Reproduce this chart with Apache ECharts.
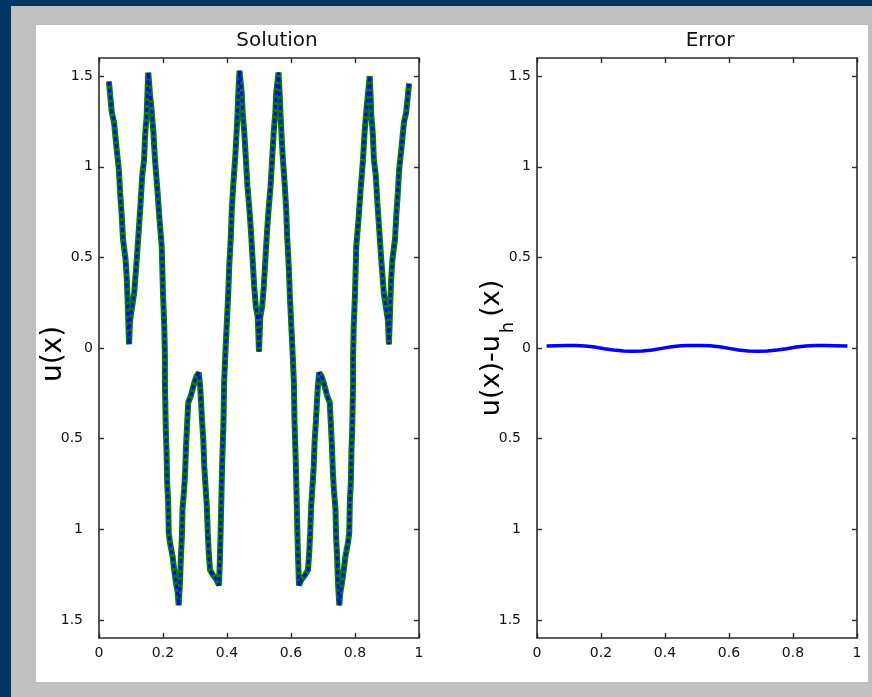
<!DOCTYPE html>
<html>
<head>
<meta charset="utf-8">
<title>Solution and Error</title>
<script src="https://cdn.jsdelivr.net/npm/echarts@6/dist/echarts.min.js"></script>
<style>
  html, body { margin: 0; padding: 0; background: #003366; }
  #frame { position: absolute; left: 11px; top: 6px; width: 861px; height: 691px; background: #c0c0c0; }
  #paper { position: absolute; left: 36px; top: 25px; width: 832px; height: 657px; background: #ffffff; }
  #chart { position: absolute; left: 0; top: 0; width: 872px; height: 697px; }
</style>
</head>
<body>
<div id="frame"></div>
<div id="paper"></div>
<div id="chart"></div>
<script>
// Computed solution u(x) (exact and discrete curves coincide)
const solX = [
  0.031, 0.040, 0.047, 0.055, 0.062, 0.066, 0.071, 0.075, 0.083, 0.087,
  0.090, 0.092, 0.094, 0.097, 0.102, 0.110, 0.118, 0.125, 0.130, 0.135,
  0.141, 0.144, 0.146, 0.149, 0.151, 0.154, 0.159, 0.165, 0.170, 0.175,
  0.183, 0.189, 0.196, 0.200, 0.204, 0.206, 0.206, 0.207, 0.209, 0.211,
  0.213, 0.216, 0.218, 0.222, 0.230, 0.235, 0.241, 0.246, 0.249, 0.253,
  0.256, 0.259, 0.261, 0.266, 0.269, 0.272, 0.276, 0.279, 0.286, 0.292,
  0.298, 0.305, 0.312, 0.316, 0.319, 0.322, 0.326, 0.329, 0.333, 0.337,
  0.340, 0.343, 0.347, 0.357, 0.368, 0.375, 0.378, 0.380, 0.383, 0.385,
  0.389, 0.391, 0.394, 0.397, 0.399, 0.404, 0.407, 0.412, 0.415, 0.420,
  0.426, 0.430, 0.433, 0.435, 0.439, 0.446, 0.449, 0.454, 0.459, 0.464,
  0.470, 0.475, 0.480, 0.485, 0.490, 0.496, 0.499, 0.500,
  0.501, 0.504, 0.510, 0.515, 0.520, 0.525, 0.530, 0.536, 0.541, 0.546,
  0.551, 0.554, 0.561, 0.565, 0.567, 0.570, 0.574, 0.580, 0.585, 0.588,
  0.593, 0.596, 0.601, 0.603, 0.606, 0.609, 0.611, 0.615, 0.617, 0.620,
  0.622, 0.625, 0.632, 0.643, 0.653, 0.657, 0.660, 0.663, 0.667, 0.671,
  0.674, 0.678, 0.681, 0.684, 0.688, 0.695, 0.702, 0.708, 0.714, 0.721,
  0.724, 0.728, 0.731, 0.734, 0.739, 0.741, 0.744, 0.747, 0.751, 0.754,
  0.759, 0.765, 0.770, 0.778, 0.782, 0.784, 0.787, 0.789, 0.791, 0.793,
  0.794, 0.794, 0.796, 0.800, 0.804, 0.811, 0.817, 0.825, 0.830, 0.835,
  0.841, 0.846, 0.849, 0.851, 0.854, 0.856, 0.859, 0.865, 0.870, 0.875,
  0.882, 0.890, 0.898, 0.903, 0.906, 0.908, 0.910, 0.913, 0.917, 0.925,
  0.929, 0.934, 0.938, 0.945, 0.953, 0.960, 0.969
];
const solY = [
  1.47, 1.30, 1.245, 1.10, 0.985, 0.86, 0.73, 0.60, 0.49, 0.38,
  0.23, 0.12, 0.02, 0.15, 0.21, 0.305, 0.49, 0.67, 0.80, 0.95,
  1.04, 1.17, 1.22, 1.28, 1.39, 1.52, 1.41, 1.30, 1.19, 1.04,
  0.86, 0.71, 0.56, 0.30, 0.12, -0.05, -0.19, -0.29, -0.47, -0.56,
  -0.745, -0.84, -1.02, -1.075, -1.15, -1.225, -1.30, -1.35, -1.42, -1.30,
  -1.15, -1.04, -0.89, -0.78, -0.69, -0.545, -0.40, -0.30, -0.27, -0.23,
  -0.19, -0.155, -0.135, -0.21, -0.30, -0.40, -0.51, -0.655, -0.765, -0.875,
  -1.02, -1.13, -1.225, -1.255, -1.28, -1.31, -1.15, -1.02, -0.78, -0.635,
  -0.41, -0.19, -0.065, 0.05, 0.12, 0.305, 0.45, 0.615, 0.765, 0.91,
  1.06, 1.19, 1.30, 1.39, 1.53, 1.41, 1.30, 1.19, 1.04, 0.89,
  0.765, 0.64, 0.49, 0.34, 0.23, 0.17, 0.03, -0.02,
  0.03, 0.17, 0.23, 0.34, 0.49, 0.64, 0.765, 0.89, 1.04, 1.19,
  1.30, 1.41, 1.52, 1.39, 1.30, 1.19, 1.06, 0.91, 0.765, 0.615,
  0.45, 0.305, 0.12, 0.05, -0.065, -0.19, -0.41, -0.635, -0.78, -1.02,
  -1.15, -1.31, -1.28, -1.255, -1.225, -1.13, -1.02, -0.875, -0.765, -0.655,
  -0.51, -0.40, -0.30, -0.21, -0.135, -0.155, -0.19, -0.23, -0.27, -0.30,
  -0.40, -0.545, -0.69, -0.78, -0.89, -1.04, -1.15, -1.30, -1.42, -1.35,
  -1.30, -1.225, -1.15, -1.075, -1.02, -0.84, -0.745, -0.56, -0.47, -0.29,
  -0.19, -0.05, 0.12, 0.30, 0.56, 0.71, 0.86, 1.04, 1.19, 1.30,
  1.41, 1.50, 1.38, 1.28, 1.22, 1.17, 1.04, 0.95, 0.80, 0.67,
  0.49, 0.305, 0.21, 0.15, 0.02, 0.12, 0.23, 0.38, 0.49, 0.60,
  0.73, 0.86, 0.985, 1.10, 1.245, 1.30, 1.46
];

// Pointwise error u(x) - u_h(x)
const errX = [
  0.03, 0.06, 0.09, 0.12, 0.15, 0.18, 0.21, 0.24, 0.27, 0.30,
  0.33, 0.36, 0.39, 0.42, 0.45, 0.48, 0.51, 0.54, 0.57, 0.60,
  0.63, 0.66, 0.69, 0.72, 0.75, 0.78, 0.81, 0.84, 0.87, 0.90,
  0.93, 0.97
];
const errY = [
  0.011, 0.013, 0.014, 0.014, 0.011, 0.005, -0.004, -0.011, -0.016, -0.018,
  -0.016, -0.011, -0.002, 0.007, 0.012, 0.014, 0.014, 0.012, 0.007, -0.002,
  -0.011, -0.016, -0.018, -0.016, -0.011, -0.004, 0.005, 0.011, 0.014, 0.014,
  0.013, 0.011
];

// Axis ticks
const xTicks = [0, 0.2, 0.4, 0.6, 0.8, 1];
const yTicks = [-1.5, -1, -0.5, 0, 0.5, 1, 1.5];
const titles = ['Solution', 'Error'];

const FONT = 'DejaVu Sans';
const AXIS_COLOR = '#2b2b2b';
const TICK_FONT_SIZE = 14;

const pairs = (xs, ys) => xs.map((x, i) => [x, ys[i]]);

function xAxisFor(gridIndex, pos) {
  return {
    type: 'value', gridIndex: gridIndex, position: pos,
    min: xTicks[0], max: xTicks[xTicks.length - 1], interval: 0.2,
    axisLine: { show: true, onZero: false, lineStyle: { color: AXIS_COLOR, width: 1.6 } },
    axisTick: { show: true, inside: true, length: 5, lineStyle: { color: AXIS_COLOR, width: 1.4 } },
    axisLabel: {
      show: pos === 'bottom', margin: 8, color: '#111',
      fontFamily: FONT, fontSize: TICK_FONT_SIZE
    },
    splitLine: { show: false }
  };
}

function yAxisFor(gridIndex, pos) {
  return {
    type: 'value', gridIndex: gridIndex, position: pos,
    min: -1.6, max: 1.6,
    axisLine: { show: true, onZero: false, lineStyle: { color: AXIS_COLOR, width: 1.6 } },
    axisTick: { show: true, inside: true, length: 5, customValues: yTicks,
      lineStyle: { color: AXIS_COLOR, width: 1.4 } },
    axisLabel: {
      show: pos === 'left', margin: 6, color: '#111',
      fontFamily: FONT, fontSize: TICK_FONT_SIZE,
      customValues: yTicks,
      formatter: function (v) {
        const s = String(Math.abs(v));
        return v < 0 ? '{n|' + s + '}' : s;
      },
      rich: { n: { padding: [0, 10, 0, 0], fontFamily: FONT, fontSize: TICK_FONT_SIZE, color: '#111' } }
    },
    splitLine: { show: false }
  };
}

const chart = echarts.init(document.getElementById('chart'), null, { renderer: 'canvas' });

chart.setOption({
  backgroundColor: 'transparent',
  animation: false,
  title: [
    { text: titles[0], left: 272, top: 26, textAlign: 'center',
      textStyle: { fontFamily: FONT, fontSize: 20, fontWeight: 'normal', color: '#111' } },
    { text: titles[1], left: 705, top: 26, textAlign: 'center',
      textStyle: { fontFamily: FONT, fontSize: 20, fontWeight: 'normal', color: '#111' } }
  ],
  grid: [
    { left: 99, top: 58, width: 320, height: 580 },
    { left: 537, top: 58, width: 320, height: 580 }
  ],
  xAxis: [
    xAxisFor(0, 'bottom'), xAxisFor(0, 'top'),
    xAxisFor(1, 'bottom'), xAxisFor(1, 'top')
  ],
  yAxis: [
    yAxisFor(0, 'left'), yAxisFor(0, 'right'),
    yAxisFor(1, 'left'), yAxisFor(1, 'right')
  ],
  graphic: [
    {
      type: 'text', x: 54, y: 354, rotation: Math.PI / 2,
      style: {
        text: 'u(x)', fontFamily: FONT, fontSize: 28, fill: '#000',
        align: 'center', verticalAlign: 'middle'
      }
    },
    {
      type: 'text', x: 492, y: 348, rotation: Math.PI / 2,
      style: {
        text: '{m|u(x)-u}{s|h}{m|(x)}',
        align: 'center', verticalAlign: 'middle', fill: '#000',
        rich: {
          m: { fontFamily: FONT, fontSize: 27, lineHeight: 50, verticalAlign: 'middle', fill: '#000' },
          s: { fontFamily: FONT, fontSize: 18, lineHeight: 18, verticalAlign: 'bottom', padding: [0, 5, 0, 2], fill: '#000' }
        }
      }
    }
  ],
  series: [
    {
      type: 'line', xAxisIndex: 0, yAxisIndex: 0,
      data: pairs(solX, solY), showSymbol: false, smooth: false,
      lineStyle: { color: '#008000', width: 6 }, z: 2
    },
    {
      type: 'line', xAxisIndex: 0, yAxisIndex: 0,
      data: pairs(solX, solY), showSymbol: false, smooth: false,
      lineStyle: { color: '#0000ff', width: 3, type: [4, 3] }, z: 3
    },
    {
      type: 'line', xAxisIndex: 2, yAxisIndex: 2,
      data: pairs(errX, errY), showSymbol: false, smooth: false,
      lineStyle: { color: '#0000ff', width: 3.5 }, z: 2
    }
  ]
});
</script>
</body>
</html>
